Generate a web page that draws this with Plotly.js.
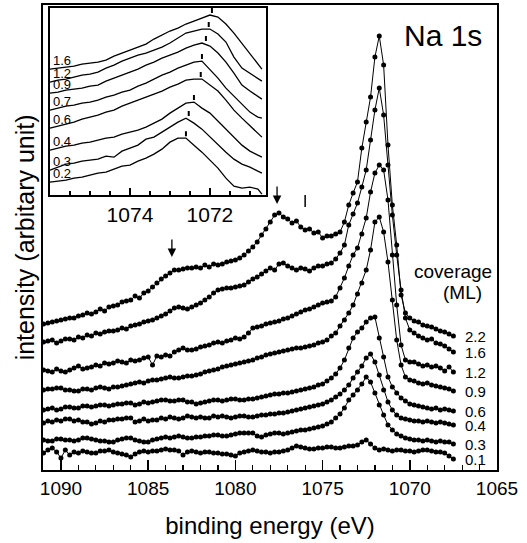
<!DOCTYPE html>
<html>
<head>
<meta charset="utf-8">
<script src="https://cdn.plot.ly/plotly-3.0.1.min.js"></script>
<style>html,body{margin:0;padding:0;background:#fff;}#chart{width:527px;height:543px;}</style>
</head>
<body>
<div id="chart"></div>
<script>
// ---- main spectra: binding energy (eV) ----
const energy = [1091,1090.75,1090.5,1090.25,1090,1089.75,1089.5,1089.25,1089,1088.75,1088.5,1088.25,1088,1087.75,1087.5,1087.25,1087,1086.75,1086.5,1086.25,1086,1085.75,1085.5,1085.25,1085,1084.75,1084.5,1084.25,1084,1083.75,1083.5,1083.25,1083,1082.75,1082.5,1082.25,1082,1081.75,1081.5,1081.25,1081,1080.75,1080.5,1080.25,1080,1079.75,1079.5,1079.25,1079,1078.75,1078.5,1078.25,1078,1077.75,1077.5,1077.25,1077,1076.75,1076.5,1076.25,1076,1075.75,1075.5,1075.25,1075,1074.75,1074.5,1074.25,1074,1073.75,1073.5,1073.25,1073,1072.75,1072.5,1072.25,1072,1071.75,1071.5,1071.25,1071,1070.75,1070.5,1070.25,1070,1069.75,1069.5,1069.25,1069,1068.75,1068.5,1068.25,1068,1067.75,1067.5];

const cov22 = [146,147,148,149,150,151,152,152,154,155,157,156,158,161,159,163,164,165,168,169,170,174,172,177,179,183,187,191,194,197,200,200,201,202,202,203,202,205,203,206,205,206,208,209,210,212,215,219,223,228,235,241,248,255,257,253,251,247,249,243,240,241,237,238,232,234,234,236,238,248,265,277,288,322,348,373,413,434,405,325,265,225,175,157,152,149,148,145,144,143,141,139,138,136,134];
const cov16 = [128,129,130,127,129,131,131,130,133,132,135,134,137,136,138,139,139,140,142,141,144,145,146,148,149,150,152,154,156,159,162,163,162,161,163,165,167,170,173,177,180,181,182,182,183,184,185,188,191,193,196,199,202,200,206,207,204,202,200,202,201,199,202,204,204,206,207,211,217,225,245,256,267,283,300,330,360,382,355,305,255,215,180,152,140,137,134,132,130,131,127,126,124,121,118];
const cov12 = [100,99,98,101,99,98,100,102,104,101,102,103,105,104,107,106,107,109,108,107,110,109,110,112,113,105,114,113,115,114,118,120,122,120,120,121,123,124,125,127,128,127,129,130,132,131,133,137,142,143,144,146,147,148,149,151,152,154,156,158,160,161,163,165,167,168,169,173,182,192,204,215,222,236,252,278,297,305,300,270,215,165,125,110,108,108,106,104,105,103,104,102,99,103,98];
const cov09 = [80,81,81,82,82,80,80,79,79,81,81,80,82,83,82,81,83,83,84,85,86,87,88,87,89,90,90,91,92,93,92,92,93,94,94,95,96,98,99,100,101,103,104,105,106,107,108,109,110,112,113,115,116,117,118,119,120,121,122,122,123,124,125,127,128,130,134,137,144,150,157,165,176,187,200,220,248,253,238,208,170,130,105,93,90,89,87,86,87,85,84,83,82,81,79];
const cov06 = [60,61,62,60,61,63,63,62,62,64,64,63,64,65,65,64,65,66,66,67,67,65,66,68,67,68,69,70,70,69,69,70,70,68,68,66,67,68,69,70,70,69,70,71,71,70,70,71,71,72,73,74,75,76,76,77,77,78,79,80,81,82,83,85,86,89,92,96,102,110,122,132,138,142,148,152,153,132,113,93,83,77,72,69,66,65,64,63,62,61,62,60,61,60,59];
const cov04 = [47,49,48,50,49,51,51,49,50,48,48,46,47,49,48,50,50,51,51,52,52,48,49,51,49,50,50,52,51,53,52,51,52,54,53,52,53,52,52,54,53,54,53,52,53,54,54,53,53,54,55,55,56,56,57,57,58,59,60,61,62,63,64,65,66,68,70,73,76,80,85,92,98,104,112,116,108,95,80,68,60,55,52,51,50,49,49,48,49,48,47,48,47,46,45];
const cov03 = [30,29,29,31,31,30,30,29,30,32,32,31,30,29,29,28,28,30,31,32,32,30,29,28,28,30,31,32,33,32,33,34,33,32,32,33,33,34,34,35,35,34,34,35,36,37,37,37,37,34,33,35,36,37,37,36,37,38,39,40,40,41,42,43,44,46,48,52,56,62,70,75,80,86,93,88,77,65,55,45,40,36,34,32,31,30,30,29,30,29,28,29,28,28,26];
const cov01 = [17,20,22,18,12,20,15,18,17,19,18,17,17,19,19,20,18,17,16,15,13,16,18,19,18,19,19,20,21,20,20,19,15,18,19,18,17,18,18,17,17,16,16,15,14,17,18,19,20,19,18,18,17,18,18,19,20,22,24,23,22,21,21,22,22,23,23,22,22,23,24,24,25,28,30,26,22,20,21,20,19,20,20,19,19,18,19,20,20,19,18,18,17,14,11];

const coverageLabels = ["2.2","1.6","1.2","0.9","0.6","0.4","0.3","0.1"];
const mainSeries = [cov22, cov16, cov12, cov09, cov06, cov04, cov03, cov01];

// feature markers on the 2.2 ML spectrum
const arrowE = [1083.64, 1077.61];
const arrowTip = [213, 266];
const arrowTail = [232, 285];
const barE = [1076.0];
const barLow = [263];
const barHigh = [275];

// ---- inset ----
const insetE = [1076,1075.8,1075.6,1075.4,1075.2,1075,1074.8,1074.6,1074.4,1074.2,1074,1073.8,1073.6,1073.4,1073.2,1073,1072.8,1072.6,1072.4,1072.2,1072,1071.8,1071.6,1071.4,1071.2,1071,1070.8,1070.7];
const ins16 = [126,127,128,129,131,132,133,135,139,142,145,148,151,156,160,164,167,171,174,177,180,178,171,162,152,141,131,126];
const ins12 = [113,115,116,118,120,121,123,127,130,134,137,140,142,145,148,152,157,162,164,166,166,161,153,138,127,122,117,114];
const ins09 = [102,103,105,106,107,109,110,114,117,120,123,126,130,133,137,140,143,147,150,152,149,142,133,122,110,104,99,96];
const ins07 = [85,87,89,90,92,93,95,98,100,103,105,109,112,116,120,123,127,130,133,134,126,117,107,99,91,83,78,77];
const ins06 = [67,69,71,73,76,78,80,83,85,89,92,95,98,101,104,108,111,115,116,116,110,104,95,85,77,69,61,58];
const ins04 = [45,47,49,50,52,53,55,57,58,61,63,65,68,72,76,82,87,92,93,87,82,74,66,58,50,44,40,38];
const ins03 = [25,28,31,32,34,35,36,39,38,44,47,50,56,58,63,68,73,77,72,66,58,50,43,36,31,28,24,22];
const ins02 = [13,14,15,17,18,20,22,23,26,29,30,34,37,41,46,53,57,57,50,43,35,27,17,9,7,8,6,1];
const insetLabels = ["1.6","1.2","0.9","0.7","0.6","0.4","0.3","0.2"];
const insetSeries = [ins16, ins12, ins09, ins07, ins06, ins04, ins03, ins02];
const insetPeakE = [1071.95, 1072.03, 1072.1, 1072.2, 1072.23, 1072.4, 1072.53, 1072.6];
const insetPeakBase = [182, 168, 154, 136, 118, 95, 79, 59];
const insetTickLabels = [1074, 1072];
const peakTickLen = 5;

const FONT = "Liberation Sans, Arial, Helvetica, sans-serif";
const traces = [];
mainSeries.forEach((s, i) => {
  traces.push({
    type: 'scatter', mode: 'lines+markers', x: energy, y: s,
    name: coverageLabels[i] + ' ML',
    line: {color: '#000', width: 1},
    marker: {color: '#000', size: 5},
    xaxis: 'x', yaxis: 'y', showlegend: false, hoverinfo: 'skip'
  });
});
insetSeries.forEach((s, i) => {
  traces.push({
    type: 'scatter', mode: 'lines', x: insetE, y: s,
    name: insetLabels[i] + ' ML (inset)',
    line: {color: '#000', width: 1.3},
    xaxis: 'x2', yaxis: 'y2', showlegend: false, hoverinfo: 'skip'
  });
});
insetPeakE.forEach((e, i) => {
  traces.push({
    type: 'scatter', mode: 'lines', x: [e, e], y: [insetPeakBase[i], insetPeakBase[i] + peakTickLen],
    line: {color: '#000', width: 2}, xaxis: 'x2', yaxis: 'y2', showlegend: false, hoverinfo: 'skip'
  });
});
barE.forEach((e, i) => {
  traces.push({
    type: 'scatter', mode: 'lines', x: [e, e], y: [barLow[i], barHigh[i]],
    line: {color: '#000', width: 1.5}, xaxis: 'x', yaxis: 'y', showlegend: false, hoverinfo: 'skip'
  });
});

const annotations = [];
arrowE.forEach((e, i) => {
  annotations.push({
    x: e, y: arrowTip[i], ax: e, ay: arrowTail[i], axref: 'x', ayref: 'y', xref: 'x', yref: 'y',
    text: '', showarrow: true, arrowhead: 2, arrowsize: 1.3, arrowwidth: 1.3, arrowcolor: '#000'
  });
});
mainSeries.forEach((s, i) => {
  annotations.push({
    x: energy[energy.length - 1], y: s[s.length - 1], xref: 'x', yref: 'y',
    text: coverageLabels[i], showarrow: false, xanchor: 'left', yanchor: 'middle', xshift: 10,
    font: {family: FONT, size: 15, color: '#000'}
  });
});
insetSeries.forEach((s, i) => {
  annotations.push({
    x: insetE[0], y: s[0], xref: 'x2', yref: 'y2',
    text: insetLabels[i], showarrow: false, xanchor: 'left', yanchor: 'bottom', xshift: 1, yshift: -1,
    font: {family: FONT, size: 13, color: '#000'}
  });
});
annotations.push({xref: 'paper', yref: 'paper', x: -0.04, y: 0.50, text: 'intensity (arbitary unit)',
  textangle: -90, showarrow: false, xanchor: 'center', yanchor: 'middle',
  font: {family: FONT, size: 25, color: '#000'}});
annotations.push({xref: 'paper', yref: 'paper', x: 0.88, y: 0.935, text: 'Na 1s', showarrow: false,
  xanchor: 'center', yanchor: 'middle', font: {family: FONT, size: 30, color: '#000'}});
annotations.push({xref: 'paper', yref: 'paper', x: 0.903, y: 0.426, text: 'coverage', showarrow: false,
  xanchor: 'center', yanchor: 'middle', font: {family: FONT, size: 19, color: '#000'}});
annotations.push({xref: 'paper', yref: 'paper', x: 0.923, y: 0.381, text: '(ML)', showarrow: false,
  xanchor: 'center', yanchor: 'middle', font: {family: FONT, size: 19, color: '#000'}});

const layout = {
  width: 527, height: 543,
  margin: {l: 43, r: 30, t: 5, b: 73},
  paper_bgcolor: '#fff', plot_bgcolor: '#fff',
  font: {family: FONT, color: '#000'},
  showlegend: false,
  xaxis: {
    range: [1091.03, 1065], tick0: 1065, dtick: 5,
    ticks: 'inside', ticklen: 10, tickwidth: 1.5, tickcolor: '#000',
    minor: {dtick: 1, ticks: 'inside', ticklen: 5, tickwidth: 1.2, tickcolor: '#000', showgrid: false},
    showline: true, mirror: true, linewidth: 2, linecolor: '#000',
    showgrid: false, zeroline: false,
    tickfont: {family: FONT, size: 19, color: '#000'},
    title: {text: 'binding energy (eV)', font: {family: FONT, size: 24, color: '#000'}, standoff: 19}
  },
  yaxis: {
    range: [0, 465], showticklabels: false, ticks: '',
    showline: true, mirror: true, linewidth: 2, linecolor: '#000',
    showgrid: false, zeroline: false
  },
  xaxis2: {
    domain: [0.0154, 0.491], anchor: 'y2',
    range: [1076, 1070.6], tickmode: 'array', tickvals: insetTickLabels, ticktext: insetTickLabels.map(String),
    ticks: 'inside', ticklen: 7, tickwidth: 1.5, tickcolor: '#000',
    minor: {tickmode: 'linear', tick0: 1072, dtick: 0.5, ticks: 'inside', ticklen: 4, tickwidth: 1.2, tickcolor: '#000', showgrid: false},
    showline: true, mirror: true, linewidth: 2, linecolor: '#000',
    showgrid: false, zeroline: false,
    tickfont: {family: FONT, size: 21, color: '#000'}
  },
  yaxis2: {
    domain: [0.591, 0.9935], anchor: 'x2',
    range: [0, 187], showticklabels: false, ticks: '',
    showline: true, mirror: true, linewidth: 2, linecolor: '#000',
    showgrid: false, zeroline: false
  },
  annotations: annotations
};

Plotly.newPlot('chart', traces, layout, {staticPlot: true, displayModeBar: false});
</script>
</body>
</html>
